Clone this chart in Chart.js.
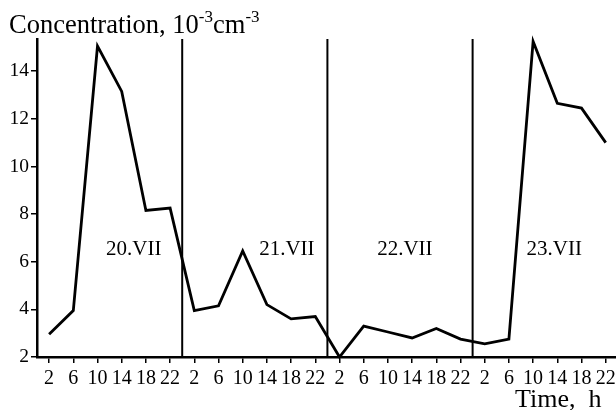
<!DOCTYPE html>
<html>
<head>
<meta charset="utf-8">
<script src="https://cdn.jsdelivr.net/npm/chart.js@4/dist/chart.umd.min.js"></script>
<style>
  html, body { margin: 0; padding: 0; background: #fff; }
  #wrap { width: 616px; height: 410px; position: relative; }
</style>
</head>
<body>
<div id="wrap"><canvas id="chart"></canvas></div>
<script>
// hours counted from 0 h of 20 July
const hours = [2, 6, 10, 14, 18, 22, 26, 30, 34, 38, 42, 46, 50, 54, 58, 62, 66, 70, 74, 78, 82, 86, 90, 94];
const concentration = [2.95, 3.95, 15.05, 13.15, 8.15, 8.25, 3.95, 4.15, 6.45, 4.2, 3.6, 3.7,
                       2.0, 3.3, 3.05, 2.8, 3.2, 2.75, 2.55, 2.75, 15.25, 12.65, 12.45, 11.0];
const dayBreaks = [24, 48, 72];
const dayLabels = ['20.VII', '21.VII', '22.VII', '23.VII'];
const dayLabelHours = [16, 41.3, 60.8, 85.5];
const dayLabelValue = 6.5;
const yTicks = [2, 4, 6, 8, 10, 12, 14];

const X_MAX = 95.7;
const Y_MIN = 2;
const Y_MAX = 15.35;
const SERIF = '"Liberation Serif", "Times New Roman", serif';

const datasets = [{
  data: hours.map((h, i) => ({ x: h, y: concentration[i] })),
  borderColor: '#000',
  borderWidth: 2.8,
  pointRadius: 0,
  tension: 0,
  clip: false
}];
// day separators
dayBreaks.forEach(h => {
  datasets.push({
    data: [{ x: h, y: Y_MIN }, { x: h, y: Y_MAX }],
    borderColor: '#000',
    borderWidth: 2,
    pointRadius: 0,
    clip: false
  });
});

const textPlugin = {
  id: 'texts',
  afterDraw(chart) {
    const ctx = chart.ctx;
    const xs = chart.scales.x, ys = chart.scales.y;
    ctx.save();
    ctx.fillStyle = '#000';
    ctx.textBaseline = 'alphabetic';
    ctx.textAlign = 'left';

    // axis title with superscripts
    const big = '26.5px ' + SERIF, small = '17px ' + SERIF;
    const parts = [['Concentration, 10', big, 0], ['-3', small, -11], ['cm', big, 0], ['-3', small, -11]];
    let x = 9;
    parts.forEach(([t, f, dy]) => {
      ctx.font = f;
      ctx.fillText(t, x, 33 + dy);
      x += ctx.measureText(t).width;
    });

    ctx.font = '26px ' + SERIF;
    ctx.fillText('Time,  h', 515, 407);

    // day labels
    ctx.font = '21px ' + SERIF;
    ctx.textAlign = 'center';
    ctx.textBaseline = 'middle';
    dayLabels.forEach((lab, i) => {
      ctx.fillText(lab, xs.getPixelForValue(dayLabelHours[i]), ys.getPixelForValue(dayLabelValue));
    });
    ctx.restore();
  }
};

new Chart(document.getElementById('chart'), {
  type: 'line',
  data: { datasets },
  options: {
    responsive: true,
    maintainAspectRatio: false,
    animation: false,
    layout: { padding: { top: 39, right: 0, left: 0, bottom: 0 } },
    plugins: { legend: { display: false }, tooltip: { enabled: false } },
    scales: {
      x: {
        type: 'linear',
        min: 0,
        max: X_MAX,
        afterBuildTicks: s => { s.ticks = hours.map(v => ({ value: v })); },
        afterFit: s => { s.height = 53; s.paddingLeft = 0; s.paddingRight = 0; },
        ticks: {
          autoSkip: false,
          maxRotation: 0,
          padding: 4,
          color: '#000',
          font: { family: SERIF, size: 20 },
          callback: v => String(v % 24)
        },
        grid: { drawOnChartArea: false, tickLength: 6, color: '#000', lineWidth: 1.5 },
        border: { display: true, color: '#000', width: 2.5 }
      },
      y: {
        min: Y_MIN,
        max: Y_MAX,
        afterBuildTicks: s => { s.ticks = yTicks.map(v => ({ value: v })); },
        afterFit: s => { s.width = 37; s.paddingTop = 0; s.paddingBottom = 0; },
        ticks: {
          padding: 2,
          color: '#000',
          font: { family: SERIF, size: 19.5 }
        },
        grid: { drawOnChartArea: false, tickLength: 6, color: '#000', lineWidth: 1.5 },
        border: { display: true, color: '#000', width: 2.5 }
      }
    }
  },
  plugins: [textPlugin]
});
</script>
</body>
</html>
